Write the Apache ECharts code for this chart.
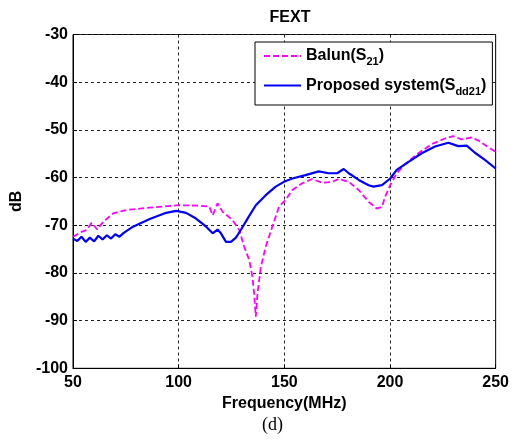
<!DOCTYPE html>
<html>
<head>
<meta charset="utf-8">
<script src="https://cdn.jsdelivr.net/npm/echarts@6/dist/echarts.min.js"></script>
<style>
  html, body { margin: 0; padding: 0; background: #fff; }
  #chart { width: 512px; height: 441px; }
</style>
</head>
<body>
<div id="chart"></div>
<script>
// Balun (S21) — magenta dashed
var balunFreq = [50, 54, 56.4, 58.8, 59.6, 61.5, 64.3, 69, 75.3, 86.3, 100, 110, 114.5, 116.1, 118.4, 120.8,
  125.5, 128.7, 131, 133.4, 134.9, 135.7, 136.5, 137.3, 138.9, 141.2, 144.3, 147.5, 150.6, 153.8, 158.5,
  163.2, 167.9, 172.6, 175.7, 180.5, 185.2, 189.9, 193.8, 196.2, 197.7, 200.1, 203.2, 207.1, 213.4, 219.7,
  226, 229.9, 233.8, 238.5, 241.7, 246.4, 250]
var balunDb = [-72.4, -71.4, -71, -69.5, -69.6, -70.9, -69.3, -67.5, -66.8, -66.3, -65.8, -65.9, -66.1, -67.9, -65.4, -67.2,
  -68.9, -71, -74.5, -77.3, -80.8, -84.3, -89.2, -84.3, -78.7, -74.5, -70.3, -66.1, -64.7, -62.6, -61.2,
  -60.3, -61.1, -60.9, -60.3, -60.9, -62.6, -65.1, -66.5, -66.1, -64, -61.6, -59.1, -57.2, -54.9, -53,
  -51.8, -51.3, -52, -51.6, -52.2, -53.6, -54.6]

// Proposed system (Sdd21) — blue solid
var propFreq = [50, 52, 54, 56, 58, 60, 62, 64, 66, 68, 70, 72, 74, 78.4, 86.3, 94.1, 98.8, 103.5, 108.2, 113,
  116.1, 118.4, 120, 122.4, 124.7, 127.1, 129.4, 132.6, 136.5, 141.2, 145.9, 149.8, 153.8, 160, 166.3,
  171, 175, 178.1, 180.5, 185.2, 189.9, 192.2, 196.2, 200.1, 203.2, 208.8, 215, 221.3, 227.6, 232.3,
  236.3, 240.2, 244.9, 250]
var propDb = [-72.8, -73.3, -72.4, -73.5, -72.6, -73.4, -72.2, -73, -72.1, -72.8, -71.9, -72.4, -71.6, -70.3, -68.7, -67.4, -67, -67.4, -68.6, -70.3,
  -71.7, -70.9, -71.7, -73.5, -73.5, -72.6, -71, -68.6, -65.8, -63.7, -61.9, -60.9, -60.2, -59.5, -58.7,
  -59.1, -59.1, -58.2, -59.1, -60.5, -61.6, -61.9, -61.6, -60.2, -58.4, -56.7, -54.9, -53.5, -52.7, -53.4,
  -53.3, -54.8, -56.3, -58.1]

function pairs(xs, ys) {
  return xs.map(function (x, i) { return [x, ys[i]] })
}

var font = 'Liberation Sans, Arial, sans-serif'
var chart = echarts.init(document.getElementById('chart'))
chart.setOption({
  animation: false,
  backgroundColor: '#fff',
  title: {
    text: 'FEXT',
    left: 285,
    top: 5,
    textAlign: 'center',
    textStyle: { fontFamily: font, fontWeight: 'bold', fontSize: 16, color: '#000' }
  },
  legend: {
    left: 255,
    top: 42,
    orient: 'vertical',
    backgroundColor: '#fff',
    borderColor: '#000',
    borderWidth: 1,
    borderRadius: 0,
    padding: [6, 6, 8, 8],
    itemGap: 10,
    itemWidth: 37,
    itemHeight: 16,
    itemStyle: { opacity: 0 },
    data: ['Balun', 'Proposed'],
    formatter: function (name) {
      return name === 'Balun' ? 'Balun(S{sub|21})' : 'Proposed system(S{sub|dd21})'
    },
    textStyle: {
      fontFamily: font, fontWeight: 'bold', fontSize: 16, color: '#000',
      rich: {
        sub: { fontFamily: font, fontWeight: 'bold', fontSize: 11, color: '#000', verticalAlign: 'bottom', padding: [12, 0, 0, 0] }
      }
    }
  },
  grid: { left: 73, right: 14.5, top: 34.5, bottom: 72.7, show: true, borderColor: '#000', borderWidth: 1 },
  xAxis: {
    type: 'value',
    min: 50, max: 250, interval: 50,
    name: 'Frequency(MHz)',
    nameLocation: 'middle',
    nameGap: 27,
    nameTextStyle: { fontFamily: font, fontWeight: 'bold', fontSize: 16, color: '#000' },
    axisLine: { lineStyle: { color: '#000' } },
    axisTick: { inside: true, length: 4, lineStyle: { color: '#000' } },
    axisLabel: { margin: 6, fontFamily: font, fontWeight: 'bold', fontSize: 16, color: '#000' },
    splitLine: { lineStyle: { color: '#222', type: [3, 3], width: 1 } }
  },
  yAxis: {
    type: 'value',
    min: -100, max: -30, interval: 10,
    name: 'dB',
    nameLocation: 'middle',
    nameGap: 47,
    nameTextStyle: { fontFamily: font, fontWeight: 'bold', fontSize: 16, color: '#000' },
    axisLine: { show: true, lineStyle: { color: '#000' } },
    axisTick: { show: true, inside: true, length: 4, lineStyle: { color: '#000' } },
    axisLabel: { margin: 5, fontFamily: font, fontWeight: 'bold', fontSize: 16, color: '#000' },
    splitLine: { lineStyle: { color: '#222', type: [3, 3], width: 1 } }
  },
  series: [
    {
      name: 'Balun',
      type: 'line',
      showSymbol: false,
      symbol: 'none',
      color: '#ff00ff',
      lineStyle: { color: '#ff00ff', width: 1.8, type: [6, 3] },
      data: pairs(balunFreq, balunDb)
    },
    {
      name: 'Proposed',
      type: 'line',
      showSymbol: false,
      symbol: 'none',
      color: '#0000ff',
      lineStyle: { color: '#0000ff', width: 2.2 },
      data: pairs(propFreq, propDb)
    }
  ],
  graphic: [{
    type: 'text',
    left: 262,
    top: 416,
    style: { text: '(d)', fontFamily: 'Liberation Serif, Times New Roman, serif', fontSize: 18, fill: '#000' }
  }]
})
</script>
</body>
</html>
